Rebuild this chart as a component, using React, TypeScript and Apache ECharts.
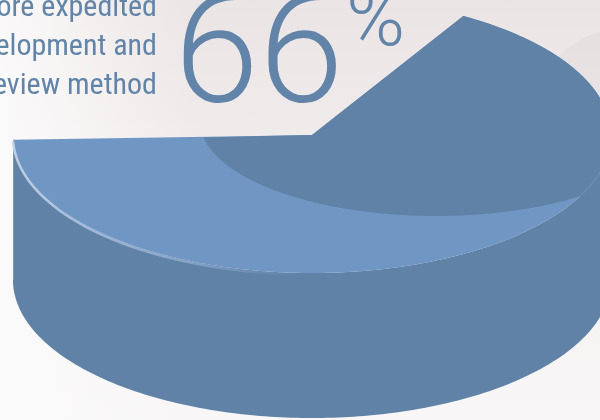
import React, { useEffect, useRef } from 'react';
import * as echarts from 'echarts';

// ---- data ----
const shareNames = ['Expedited', 'Other'];
const shareValues = [66, 34];
const captionLines = ['ore expedited', 'elopment and', 'eview method'];
const bigNumber = '66';
const percentSign = '%';

// ---- layout / style constants ----
const CX = 312;
const CY = 135;
const RX = 299;
const RY = 138;
const DEPTH = 145;
const START_DEG = 178;
const SHADE = { cx: 436, cy: 121, a: 236, b: 95 };
const DARK = '#5f82a6';
const LIGHT = '#7097c4';
const TEXT = '#6184a8';

function rim(tDeg: number, dy = 0): number[] {
  const t = (tDeg * Math.PI) / 180;
  return [CX + RX * Math.cos(t), CY + RY * Math.sin(t) + dy];
}

export default function App() {
  const ref = useRef<HTMLDivElement>(null);
  useEffect(() => {
    if (!ref.current) return;
    const chart = echarts.init(ref.current, undefined, { renderer: 'svg' });
    const total = shareValues.reduce((a, b) => a + b, 0);

    const renderItem = (params: any, api: any) => {
      const v = api.value(1) as number;
      const sweep = (360 * v) / total;
      const endDeg = START_DEG - sweep;
      // side wall (front half)
      const side: number[][] = [];
      const sideStart = 180;
      const sideEnd = Math.max(endDeg, 0);
      const pStart = rim(START_DEG);
      side.push([pStart[0], CY]);
      for (let t = START_DEG; t >= sideEnd; t -= 1) side.push(rim(t));
      side.push(rim(sideEnd));
      for (let t = sideEnd; t <= sideStart; t += 1) side.push(rim(t, DEPTH));
      side.push([pStart[0], CY + DEPTH]);
      // top face
      const top: number[][] = [[CX, CY]];
      for (let t = START_DEG; t >= endDeg; t -= 1) top.push(rim(t));
      top.push(rim(endDeg));
      // shaded region on top face
      const p0 = rim(START_DEG);
      const edgeY = (x: number) => CY + ((CX - x) / (CX - p0[0])) * (p0[1] - CY);
      const dark: number[][] = [];
      let tInt = 0;
      for (let s = 180; s >= -90; s -= 0.5) {
        const r = (s * Math.PI) / 180;
        const x = SHADE.cx + SHADE.a * Math.cos(r);
        const y = SHADE.cy + SHADE.b * Math.sin(r);
        if (dark.length === 0) {
          if (y >= edgeY(x)) dark.push([x, y]);
          continue;
        }
        const inside = ((x - CX) / RX) ** 2 + ((y - CY) / RY) ** 2 <= 1;
        if (!inside) {
          tInt = (Math.atan2((y - CY) / RY, (x - CX) / RX) * 180) / Math.PI;
          break;
        }
        dark.push([x, y]);
      }
      for (let t = tInt; t >= endDeg; t -= 1) dark.push(rim(t));
      dark.push(rim(endDeg));
      dark.push([CX, CY]);
      // rim highlight
      const hl: number[][] = [];
      for (let t = START_DEG; t >= 92; t -= 1) hl.push(rim(t, 1.5));
      // faint rim line in the shaded part
      const faint: number[][] = [];
      for (let t = tInt; t >= 8; t -= 1) faint.push(rim(t));

      return {
        type: 'group',
        children: [
          { type: 'polygon', shape: { points: side }, style: { fill: DARK } },
          { type: 'polygon', shape: { points: top }, style: { fill: LIGHT } },
          { type: 'polygon', shape: { points: dark }, style: { fill: DARK } },
          {
            type: 'polyline',
            shape: { points: faint },
            style: { fill: 'none', lineWidth: 1, stroke: 'rgba(120,150,190,0.45)' },
          },
          {
            type: 'polyline',
            shape: { points: hl },
            style: {
              fill: 'none',
              lineWidth: 2.5,
              stroke: new echarts.graphic.LinearGradient(0, 0, 1, 0, [
                { offset: 0, color: 'rgba(196,210,232,0.95)' },
                { offset: 0.6, color: 'rgba(160,185,220,0.6)' },
                { offset: 1, color: 'rgba(140,170,210,0)' },
              ]),
            },
          },
        ],
      };
    };

    chart.setOption({
      animation: false,
      graphic: [
        {
          type: 'rect',
          z: -10,
          shape: { x: 0, y: 0, width: 600, height: 420 },
          style: {
            fill: new echarts.graphic.LinearGradient(0, 0, 0, 1, [
              { offset: 0, color: '#ebe4e4' },
              { offset: 0.45, color: '#f2eeee' },
              { offset: 1, color: '#f8f6f6' },
            ]),
          },
        },
        {
          type: 'rect',
          z: -9,
          shape: { x: 0, y: 0, width: 200, height: 420 },
          style: {
            fill: new echarts.graphic.LinearGradient(0, 0, 1, 0, [
              { offset: 0, color: 'rgba(252,251,251,0.9)' },
              { offset: 1, color: 'rgba(252,251,251,0)' },
            ]),
          },
        },
        {
          type: 'circle',
          z: -8,
          shape: { cx: 620, cy: 115, r: 85 },
          style: { fill: 'rgba(200,192,198,0.15)' },
        },
        ...captionLines.map((line, i) => ({
          type: 'text',
          z: 10,
          style: {
            text: line,
            x: 157,
            y: 5 + i * 39,
            fill: TEXT,
            font: '30px "Liberation Sans Narrow", "Roboto Condensed", sans-serif',
            align: 'right',
            textAlign: 'right',
            verticalAlign: 'middle',
            textVerticalAlign: 'middle',
          },
        })),
        {
          type: 'text',
          z: 10,
          style: {
            text: bigNumber,
            x: 174,
            y: 49,
            fill: TEXT,
            font: '300 153px Roboto, sans-serif',
            align: 'left',
            textAlign: 'left',
            verticalAlign: 'middle',
            textVerticalAlign: 'middle',
          },
        },
        {
          type: 'text',
          z: 10,
          style: {
            text: percentSign,
            x: 346,
            y: 18,
            fill: TEXT,
            font: '300 80px Roboto, sans-serif',
            align: 'left',
            textAlign: 'left',
            verticalAlign: 'middle',
            textVerticalAlign: 'middle',
          },
        },
      ],
      series: [
        {
          type: 'custom',
          coordinateSystem: 'none',
          renderItem,
          data: [[shareNames[0], shareValues[0]]],
          z: 2,
        },
      ],
    });
    return () => chart.dispose();
  }, []);
  return (
    <div
      ref={ref}
      style={{ position: 'fixed', left: 0, top: 0, width: 600, height: 420 }}
    />
  );
}
